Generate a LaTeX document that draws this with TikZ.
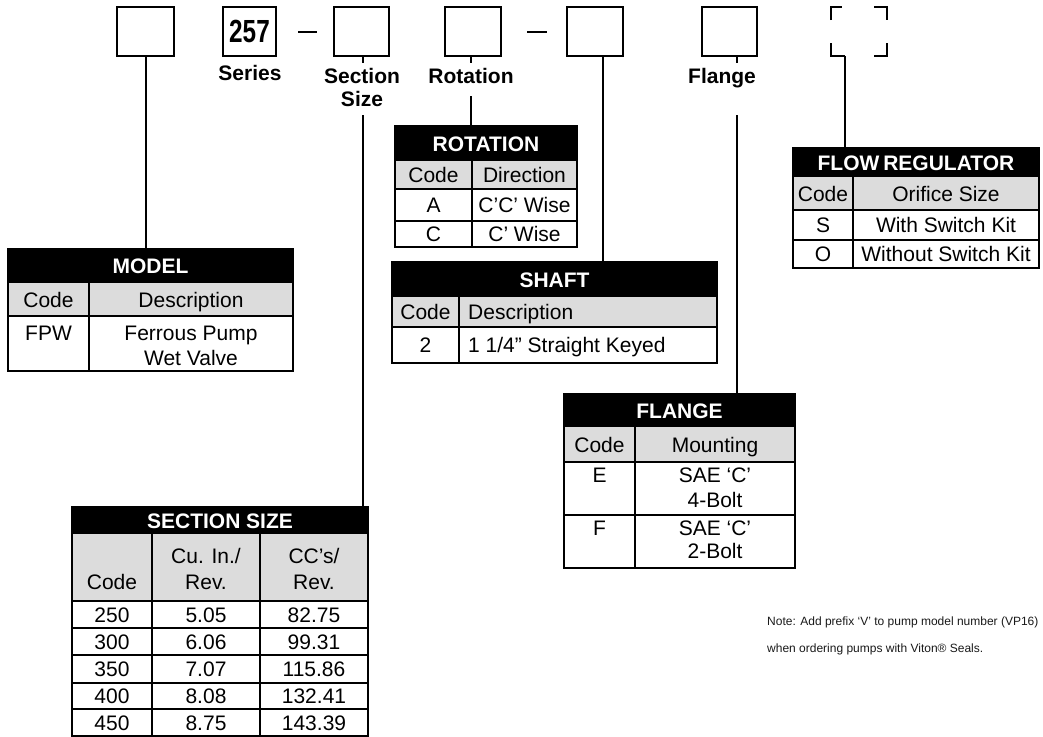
\documentclass[tikz,border=0pt]{standalone}
\usepackage{graphicx}
\usepackage{fontspec}
\setmainfont{Liberation Sans}
\definecolor{hdrgray}{HTML}{DCDCDC}
\tikzset{
  cbox/.style={draw, line width=2pt, minimum height=49pt, inner sep=0pt},
  lbl/.style={font=\fontsize{21}{23}\selectfont\bfseries, inner sep=0pt, anchor=base},
  ttl/.style={font=\fontsize{21}{23}\selectfont\bfseries, text=white, inner sep=0pt, anchor=base},
  cell/.style={font=\fontsize{21}{25}\selectfont, inner sep=0pt, anchor=base},
  lcell/.style={font=\fontsize{21}{25}\selectfont, inner sep=0pt, anchor=base west},
  gridline/.style={line width=1.6pt},
  frame/.style={line width=2pt},
  conn/.style={line width=2pt},
  notetext/.style={font=\fontsize{12}{14}\selectfont, inner sep=0pt, anchor=base west, text=black!90}
}
\begin{document}
\begin{tikzpicture}[x=1pt,y=-1pt]
\useasboundingbox (0,0) rectangle (1043,736);

% ---------- top code boxes ----------
\node[cbox, minimum width=57pt] (b1) at (145.5,31.5) {};
\node[cbox, minimum width=53pt] (b257) at (249.5,31.5) {\fontsize{32}{32}\selectfont\bfseries\scalebox{0.76}[1]{257}};
\node[cbox, minimum width=55pt] (bsec) at (361.5,31.5) {};
\node[cbox, minimum width=56pt] (brot) at (473,31.5) {};
\node[cbox, minimum width=56pt] (bshaft) at (595,31.5) {};
\node[cbox, minimum width=55pt] (bflange) at (729.5,31.5) {};
% optional (corner) box
\draw[conn] (831,20) -- (831,7) -- (842,7);
\draw[conn] (874,7) -- (887,7) -- (887,20);
\draw[conn] (831,43) -- (831,56) -- (845,56);
\draw[conn] (874,56) -- (887,56) -- (887,43);

% dashes between boxes
\coordinate (d1a) at (298,32); \coordinate (d1b) at (317,32);
\coordinate (d2a) at (527,32); \coordinate (d2b) at (547,32);
\draw[conn] (d1a) -- (d1b);
\draw[conn] (d2a) -- (d2b);

% labels under boxes
\node[lbl] (lseries) at (250,80) {Series};
\node[lbl] (lsection) at (362,83) {Section};
\node[lbl] (lsize) at (362,106) {Size};
\node[lbl] (lrot) at (471,83) {Rotation};
\node[lbl] (lflange) at (722,83) {Flange};

% ---------- MODEL table ----------
\fill[black] (8,249) rectangle (293,283);
\fill[hdrgray] (8,283) rectangle (293,316);
\draw[gridline] (8,316) -- (293,316) (89,283) -- (89,371);
\draw[frame] (8,249) rectangle (293,371);
\coordinate (modeltop) at (145.5,249);
\node[ttl] (tmodel) at (150.5,273.5) {MODEL};
\node[cell] (mc) at (48.5,307) {Code};
\node[cell] (md) at (191,307) {Description};
\node[cell] (mc1) at (48.5,340.5) {FPW};
\node[cell] (md1) at (191,340.5) {Ferrous Pump};
\node[cell] (md2) at (191,365) {Wet Valve};

% ---------- ROTATION table ----------
\fill[black] (395,126) rectangle (577,161);
\fill[hdrgray] (395,161) rectangle (577,189);
\draw[gridline] (395,189) -- (577,189) (395,221) -- (577,221) (472,161) -- (472,247);
\draw[frame] (395,126) rectangle (577,247);
\coordinate (rottop) at (471,126);
\node[ttl] (trot) at (486,151) {ROTATION};
\node[cell] (rc) at (433.5,182.5) {Code};
\node[cell] (rd) at (524.5,182.5) {Direction};
\node[cell] (rc1) at (433.5,212.5) {A};
\node[cell] (rd1) at (524.5,212.5) {C’C’ Wise};
\node[cell] (rc2) at (433.5,241.5) {C};
\node[cell] (rd2) at (524.5,241.5) {C’ Wise};

% ---------- SHAFT table ----------
\fill[black] (392,262) rectangle (717,297);
\fill[hdrgray] (392,297) rectangle (717,327);
\draw[gridline] (392,327) -- (717,327) (459,297) -- (459,363);
\draw[frame] (392,262) rectangle (717,363);
\coordinate (shafttop) at (603,262);
\node[ttl] (tshaft) at (554.5,287) {SHAFT};
\node[cell] (sc) at (425.5,319.5) {Code};
\node[lcell] (sd) at (468,319.5) {Description};
\node[cell] (sc1) at (425.5,352.5) {2};
\node[lcell] (sd1) at (468,352.5) {1 1/4” Straight Keyed};

% ---------- FLOW REGULATOR table ----------
\fill[black] (793,148) rectangle (1039,177);
\fill[hdrgray] (793,177) rectangle (1039,210);
\draw[gridline] (793,210) -- (1039,210) (793,240) -- (1039,240) (853,177) -- (853,268);
\draw[frame] (793,148) rectangle (1039,268);
\coordinate (flowtop) at (845,148);
\node[ttl] (tflow) at (916,170) {FLOW\hspace{-2pt} REGULATOR};
\node[cell] (fc) at (823,201) {Code};
\node[cell] (fd) at (946,201) {Orifice Size};
\node[cell] (fc1) at (823,232.5) {S};
\node[cell] (fd1) at (946,232.5) {With Switch Kit};
\node[cell] (fc2) at (823,261.5) {O};
\node[cell] (fd2) at (946,261.5) {Without Switch Kit};

% ---------- FLANGE table ----------
\fill[black] (564,394) rectangle (795,427);
\fill[hdrgray] (564,427) rectangle (795,462);
\draw[gridline] (564,462) -- (795,462) (564,515) -- (795,515) (635,427) -- (635,568);
\draw[frame] (564,394) rectangle (795,568);
\coordinate (flangetop) at (737,394);
\node[ttl] (tflange) at (679.5,418) {FLANGE};
\node[cell] (gc) at (599.5,452) {Code};
\node[cell] (gd) at (715,452) {Mounting};
\node[cell] (gc1) at (599.5,482.5) {E};
\node[cell] (gd1) at (715,482.5) {SAE ‘C’};
\node[cell] (gd1b) at (715,507) {4-Bolt};
\node[cell] (gc2) at (599.5,535.5) {F};
\node[cell] (gd2) at (715,535.5) {SAE ‘C’};
\node[cell] (gd2b) at (715,558) {2-Bolt};

% ---------- SECTION SIZE table ----------
\fill[black] (72,507) rectangle (368,534);
\fill[hdrgray] (72,534) rectangle (368,601);
\draw[gridline] (72,601) -- (368,601) (72,628) -- (368,628) (72,655) -- (368,655)
  (72,683) -- (368,683) (72,709) -- (368,709) (152,534) -- (152,736) (260,534) -- (260,736);
\draw[frame] (72,507) rectangle (368,736);
\coordinate (sectop) at (363,507);
\node[ttl] (tsec) at (220,528) {SECTION SIZE};
\node[cell] (xc) at (112,589) {Code};
\node[cell] (xi) at (206,563.5) {Cu. In./};
\node[cell] (xib) at (206,589) {Rev.};
\node[cell] (xv) at (314,563.5) {CC’s/};
\node[cell] (xvb) at (314,589) {Rev.};
\node[cell] (x1a) at (112,622) {250}; \node[cell] (x1b) at (206,622) {5.05}; \node[cell] (x1c) at (314,622) {82.75};
\node[cell] (x2a) at (112,649) {300}; \node[cell] (x2b) at (206,649) {6.06}; \node[cell] (x2c) at (314,649) {99.31};
\node[cell] (x3a) at (112,676.5) {350}; \node[cell] (x3b) at (206,676.5) {7.07}; \node[cell] (x3c) at (314,676.5) {115.86};
\node[cell] (x4a) at (112,703.5) {400}; \node[cell] (x4b) at (206,703.5) {8.08}; \node[cell] (x4c) at (314,703.5) {132.41};
\node[cell] (x5a) at (112,730) {450}; \node[cell] (x5b) at (206,730) {8.75}; \node[cell] (x5c) at (314,730) {143.39};

% ---------- connectors ----------
\draw[conn] (b1.south) -- (modeltop);
\coordinate (secA) at (363,56); \coordinate (secB) at (363,63); \coordinate (secC) at (363,115);
\draw[conn] (secA) -- (secB);
\draw[conn] (secC) -- (sectop);
\coordinate (rotA) at (471,56); \coordinate (rotB) at (471,63); \coordinate (rotC) at (471,96);
\draw[conn] (rotA) -- (rotB);
\draw[conn] (rotC) -- (rottop);
\coordinate (shA) at (603,56);
\draw[conn] (shA) -- (shafttop);
\coordinate (flA) at (737,56); \coordinate (flB) at (737,63); \coordinate (flC) at (737,115);
\draw[conn] (flA) -- (flB);
\draw[conn] (flC) -- (flangetop);
\coordinate (opA) at (845,56);
\draw[conn] (opA) -- (flowtop);

% ---------- note ----------
\node[notetext] (note1) at (767,625) {Note: Add prefix ‘V’ to pump model number (VP16)};
\node[notetext] (note2) at (767,652) {when ordering pumps with Viton® Seals.};
\end{tikzpicture}
\end{document}
